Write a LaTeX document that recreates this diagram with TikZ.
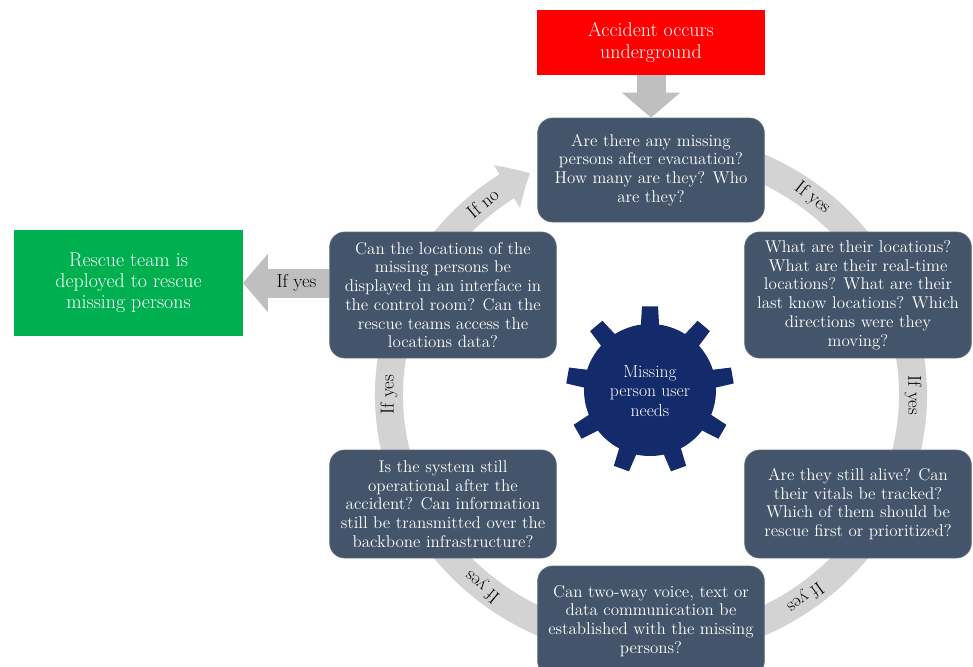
\documentclass[tikz,border=0pt]{standalone}
\usepackage{fontspec}
\usetikzlibrary{arrows.meta,bending}
\definecolor{slate}{HTML}{44546A}
\definecolor{navy}{HTML}{132A6B}
\definecolor{alarm}{HTML}{FF0000}
\definecolor{okgreen}{HTML}{00B050}
\definecolor{ringgray}{HTML}{D3D3D3}
\definecolor{arrowgray}{HTML}{BFBFBF}
\begin{document}
\begin{tikzpicture}[x=.03cm,y=-.03cm,
  every node/.style={inner sep=1pt},
  qbox/.style={fill=slate,draw=slate!85!white,line width=.6pt,rounded corners=.45cm,
    minimum width=6.8cm,text=white,align=center,font=\fontsize{14.5}{16}\selectfont},
  endbox/.style={minimum width=6.85cm,text=white,align=center,font=\fontsize{17}{18}\selectfont},
  ringlabel/.style={font=\fontsize{16}{17}\selectfont},
  ring/.style={draw=ringgray,line width=.84cm,-{Triangle[bend,length=.8cm,width=1.45cm]}},
  fatarrow/.style={draw=arrowgray,line width=.87cm,-{Triangle[length=.75cm,width=1.71cm]}}]
  \path[use as bounding box] (0,0) rectangle (973,666);
  \coordinate (R) at (651,395);
  \draw[ring] (R) ++(-80:262 and 250) arc[start angle=-80,end angle=242.5,x radius=262,y radius=250];
  \foreach \ang/\rot/\txt [count=\i] in {-130/40/If no,-52/-38/If yes,0/-90/If yes,54/-144/If yes,130/140/If yes,180/90/If yes}
    \node[ringlabel,rotate=\rot] (lbl\i) at ([shift={(R)}]\ang:262 and 250) {\txt};
  \begin{scope}[shift={(650,390)}]
    \fill[navy] (0,0) circle[radius=66];
    \foreach \a in {-90,-50,...,230}
      \fill[navy] (\a-5.5:84) -- (\a+5.5:84) -- (\a+9:60) -- (\a-9:60) -- cycle;
  \end{scope}
  \node[text=white,align=center,font=\fontsize{15}{16.5}\selectfont] (hub) at (650,391) {Missing\\person user\\needs};
  \node[endbox,fill=alarm,minimum height=1.95cm] (acc) at (651,42.5) {Accident occurs\\underground};
  \node[endbox,fill=okgreen,minimum height=3.18cm] (rescue) at (128.5,283) {Rescue team is\\deployed to rescue\\missing persons};
  \node[qbox,minimum height=3.12cm] (q1) at (651,170) {Are there any missing\\persons after evacuation?\\How many are they? Who\\are they?};
  \node[qbox,minimum height=3.78cm] (q2) at (858,295) {What are their locations?\\What are their real-time\\locations? What are their\\last know locations? Which\\directions were they\\moving?};
  \node[qbox,minimum height=3.24cm] (q3) at (858,504) {Are they still alive? Can\\their vitals be tracked?\\Which of them should be\\rescue first or prioritized?};
  \node[qbox,minimum height=3.3cm] (q4) at (651,621) {Can two-way voice, text or\\data communication be\\established with the missing\\persons?};
  \node[qbox,minimum height=3.24cm] (q5) at (443,504) {Is the system still\\operational after the\\accident? Can information\\still be transmitted over the\\backbone infrastructure?};
  \node[qbox,minimum height=3.78cm] (q6) at (443,295) {Can the locations of the\\missing persons be\\displayed in an interface in\\the control room? Can the\\rescue teams access the\\locations data?};
  \draw[fatarrow] (acc) -- (q1);
  \draw[fatarrow] (q6.west |- rescue) -- (rescue) node[pos=.38,ringlabel] (ifyes) {If yes};
\end{tikzpicture}
\end{document}
